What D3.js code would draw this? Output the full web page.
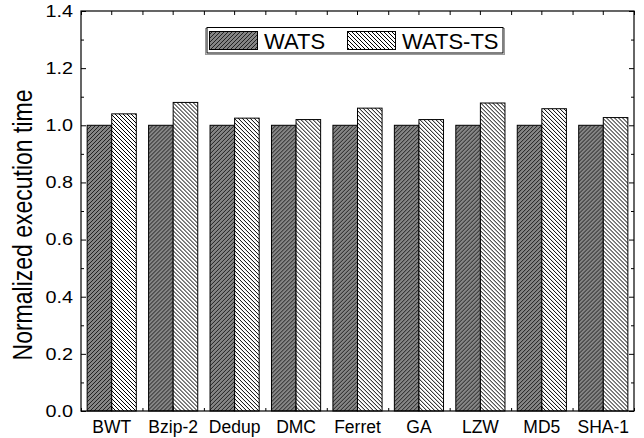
<!DOCTYPE html>
<html lang="en">
<head>
<meta charset="UTF-8">
<title>Normalized execution time</title>
<script src="https://d3js.org/d3.v7.min.js"></script>
<style>
    body { margin: 0; background: #fff; }
    text { font-family: Arial, "Liberation Sans", sans-serif; fill: #000; }
</style>
</head>
<body>
<svg id="chart" width="644" height="438"></svg>
<script>
    // data
    var categories = ['BWT', 'Bzip-2', 'Dedup', 'DMC', 'Ferret', 'GA', 'LZW', 'MD5', 'SHA-1'];
    var series = ['WATS', 'WATS-TS'];
    var wats = [1.0, 1.0, 1.0, 1.0, 1.0, 1.0, 1.0, 1.0, 1.0];
    var watsTS = [1.04, 1.08, 1.025, 1.02, 1.06, 1.02, 1.078, 1.058, 1.027];
    var yMajor = [0.0, 0.2, 0.4, 0.6, 0.8, 1.0, 1.2, 1.4];
    var yMinor = [0.1, 0.3, 0.5, 0.7, 0.9, 1.1, 1.3];

    var plotL = 81, plotR = 634, plotT = 11, plotB = 411;
    var svg = d3.select('#chart');

    // hatch patterns
    var defs = svg.append('defs');
    var p1 = defs.append('pattern').attr('id', 'hatchDark')
        .attr('patternUnits', 'userSpaceOnUse').attr('width', 4).attr('height', 4);
    p1.append('rect').attr('width', 4).attr('height', 4).attr('fill', '#858585');
    p1.append('path').attr('d', 'M0,4 L4,0 M-1,1 L1,-1 M3,5 L5,3')
        .attr('stroke', '#222').attr('stroke-width', 1);
    var p2 = defs.append('pattern').attr('id', 'hatchLight')
        .attr('patternUnits', 'userSpaceOnUse').attr('width', 4).attr('height', 4);
    p2.append('rect').attr('width', 4).attr('height', 4).attr('fill', '#fff');
    p2.append('path').attr('d', 'M0,0 L4,4 M-1,3 L1,5 M3,-1 L5,1')
        .attr('stroke', '#000').attr('stroke-width', 1);
    var fills = {'WATS': 'url(#hatchDark)', 'WATS-TS': 'url(#hatchLight)'};

    var x = d3.scaleBand().domain(categories).range([plotL, plotR]).padding(0);
    var xSub = d3.scaleBand().domain(series).range([x.bandwidth() * 0.1, x.bandwidth() * 0.9]);
    var xIdx = d3.scaleLinear().domain([0, categories.length]).range([plotL, plotR]);
    var y = d3.scaleLinear().domain([0, 1.4]).range([plotB, plotT]);

    var rows = categories.map((c, i) => ({cat: c, vals: [
        {s: 'WATS', v: wats[i]}, {s: 'WATS-TS', v: watsTS[i]}
    ]}));

    // bars
    svg.append('g').selectAll('g')
        .data(rows)
        .enter().append('g')
        .attr('transform', d => 'translate(' + x(d.cat) + ',0)')
        .selectAll('rect')
        .data(d => d.vals)
        .enter().append('rect')
        .attr('x', d => xSub(d.s))
        .attr('y', d => y(d.v))
        .attr('width', xSub.bandwidth())
        .attr('height', d => plotB - y(d.v))
        .attr('fill', d => fills[d.s])
        .attr('stroke', '#000')
        .attr('stroke-width', 1);

    // axes
    function clean(g) {
        g.select('.domain').remove();
        g.selectAll('line').attr('stroke', '#000');
    }
    var gl = svg.append('g').attr('transform', 'translate(' + plotL + ',0)')
        .call(d3.axisLeft(y).tickValues(yMajor).tickSize(-5).tickPadding(8).tickFormat(d3.format('.1f')))
        .call(clean);
    gl.selectAll('text')
        .attr('font-size', 16.5)
        .attr('font-family', 'Arial, "Liberation Sans", sans-serif')
        .attr('x', -8 / 1.2)
        .attr('transform', 'scale(1.2,1)');
    svg.append('g').attr('transform', 'translate(' + plotL + ',0)')
        .call(d3.axisLeft(y).tickValues(yMinor).tickSize(-3).tickFormat(''))
        .call(clean);
    svg.append('g').attr('transform', 'translate(' + plotR + ',0)')
        .call(d3.axisRight(y).tickValues(yMajor).tickSize(-5).tickFormat(''))
        .call(clean);
    svg.append('g').attr('transform', 'translate(' + plotR + ',0)')
        .call(d3.axisRight(y).tickValues(yMinor).tickSize(-3).tickFormat(''))
        .call(clean);

    var gb = svg.append('g').attr('transform', 'translate(0,' + plotB + ')')
        .call(d3.axisBottom(x).tickSize(-5).tickPadding(10))
        .call(clean);
    gb.selectAll('text')
        .attr('font-size', 17.5)
        .attr('font-family', 'Arial, "Liberation Sans", sans-serif');
    svg.append('g').attr('transform', 'translate(0,' + plotB + ')')
        .call(d3.axisBottom(xIdx).ticks(categories.length).tickSize(-3).tickFormat(''))
        .call(clean);
    svg.append('g').attr('transform', 'translate(0,' + plotT + ')')
        .call(d3.axisTop(x).tickSize(-4).tickFormat(''))
        .call(clean);
    svg.append('g').attr('transform', 'translate(0,' + plotT + ')')
        .call(d3.axisTop(xIdx).ticks(categories.length).tickSize(-4).tickFormat(''))
        .call(clean);

    // frame
    svg.append('rect')
        .attr('x', plotL).attr('y', plotT)
        .attr('width', plotR - plotL).attr('height', plotB - plotT)
        .attr('fill', 'none').attr('stroke', '#000').attr('stroke-width', 1.2);

    // y label
    svg.append('text')
        .attr('transform', 'translate(31.5,225) scale(1.2,1) rotate(-90)')
        .attr('text-anchor', 'middle')
        .attr('font-size', 23)
        .text('Normalized execution time');

    // legend
    var lg = svg.append('g');
    lg.append('rect').attr('x', 205.5).attr('y', 28.5).attr('width', 299).attr('height', 26)
        .attr('fill', 'none').attr('stroke', '#999').attr('stroke-width', 1);
    lg.append('rect').attr('x', 207).attr('y', 27.5).attr('width', 296).attr('height', 25.5)
        .attr('fill', '#fff').attr('stroke', '#000').attr('stroke-width', 1);
    var legendX = [209.5, 347.5];
    series.forEach(function (s, i) {
        lg.append('rect')
            .attr('x', legendX[i]).attr('y', 31.5)
            .attr('width', 48).attr('height', 18)
            .attr('fill', fills[s]).attr('stroke', '#000').attr('stroke-width', 1);
        lg.append('text')
            .attr('x', legendX[i] + 54.5).attr('y', 49.3)
            .attr('font-size', 22)
            .text(s);
    });
</script>
</body>
</html>
